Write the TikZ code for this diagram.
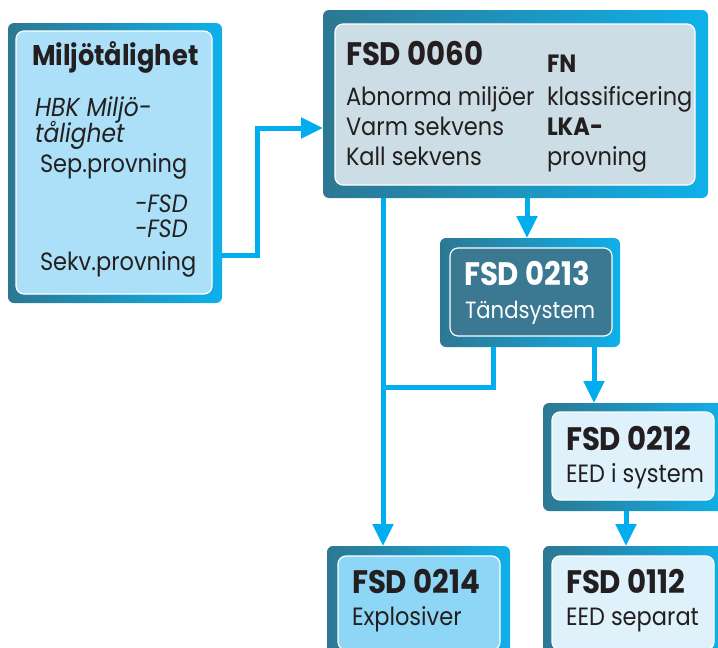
\documentclass[tikz,border=0pt]{standalone}
\usepackage{fontspec}
\setmainfont[FakeStretch=0.9, Numbers=Monospaced]{Poppins}
\usetikzlibrary{arrows.meta}
\definecolor{arrowc}{HTML}{00AEEF}
\definecolor{darkc}{HTML}{2C7893}
\definecolor{brightc}{HTML}{0FB0EA}
\definecolor{inone}{HTML}{ABE0F8}
\definecolor{intwo}{HTML}{CDDDE5}
\definecolor{inthree}{HTML}{3B7892}
\definecolor{infour}{HTML}{DFF2FB}
\definecolor{insix}{HTML}{8ED6F5}
\definecolor{ink}{HTML}{231F20}
\tikzset{
 outerbox/.style={rounded corners=6pt, left color=darkc, right color=brightc, draw=none, inner sep=0pt, outer sep=0pt, anchor=north west},
 innerbox/.style={rounded corners=8pt, draw=white, line width=1.2pt, inner sep=0pt, outer sep=0pt, anchor=north west},
 conn/.style={draw=arrowc, line width=5pt},
 arr/.style={conn, -{Triangle[length=22pt,width=20pt]}},
 txt/.style={anchor=base west, inner sep=0pt, outer sep=0pt, text=ink, font=\fontsize{25}{25}\selectfont},
 boldtxt/.style={txt, font=\fontsize{25}{25}\selectfont\bfseries},
 itxt/.style={txt, font=\fontsize{25}{25}\selectfont\itshape},
 ttl/.style={txt, font=\fontsize{32.5}{32.5}\selectfont\bfseries},
}
\begin{document}
\begin{tikzpicture}[x=1pt,y=-1pt]
\useasboundingbox (0,0) rectangle (718,648);
\clip (0,0) rectangle (718,648);
% outer boxes
\node[outerbox, minimum width=214pt, minimum height=280pt] (o1) at (8,23) {};
\node[outerbox, minimum width=385pt, minimum height=188pt] (o2) at (323,10) {};
\node[outerbox, minimum width=180pt, minimum height=109pt] (o3) at (440,238) {};
\node[outerbox, minimum width=182pt, minimum height=108pt] (o4) at (543,403) {};
\node[outerbox, minimum width=182pt, minimum height=114pt] (o5) at (543,546) {};
\node[outerbox, minimum width=183pt, minimum height=114pt] (o6) at (327,546) {};
% inner boxes
\node[innerbox, fill=inone, minimum width=196pt, minimum height=263pt] (i1) at (16,31) {};
\node[innerbox, fill=intwo, minimum width=360pt, minimum height=161pt] (i2) at (335,24) {};
\node[innerbox, fill=inthree, minimum width=162pt, minimum height=88pt] (i3) at (450,248) {};
\node[innerbox, fill=infour, minimum width=162pt, minimum height=88pt] (i4) at (552,412) {};
\node[innerbox, fill=infour, minimum width=162pt, minimum height=94pt] (i5) at (552,556) {};
\node[innerbox, fill=insix, minimum width=162pt, minimum height=94pt] (i6) at (338,556) {};
% texts box 1
\node[txt, font=\fontsize{28.5}{28.5}\selectfont\bfseries] (t1a) at (32,65) {Miljötålighet};
\node[itxt, font=\fontsize{26}{26}\selectfont\itshape] (t1b) at (35,116) {HBK Miljö-};
\node[itxt, font=\fontsize{26}{26}\selectfont\itshape] (t1c) at (35,142) {tålighet};
\node[txt] (t1d) at (40,172) {Sep.provning};
\node[itxt] (t1e) at (135,212) {-FSD};
\node[itxt] (t1f) at (135,237) {-FSD};
\node[txt] (t1g) at (40,270) {Sekv.provning};
% texts box 2
\node[ttl] (t2a) at (346,65) {FSD 0060};
\node[boldtxt] (t2b) at (547,72) {FN};
\node[txt] (t2c) at (346,105) {Abnorma miljöer};
\node[txt] (t2d) at (547,105) {klassificering};
\node[txt] (t2e) at (346,135) {Varm sekvens};
\node[boldtxt] (t2f) at (547,135) {LKA-};
\node[txt] (t2g) at (346,165) {Kall sekvens};
\node[txt] (t2h) at (547,165) {provning};
% box 3
\node[ttl, text=white] (t3a) at (464,285) {FSD 0213};
\node[txt, text=white, font=\fontsize{23.5}{23.5}\selectfont] (t3b) at (465,318) {Tändsystem};
% box 4
\node[ttl] (t4a) at (566,450) {FSD 0212};
\node[txt] (t4b) at (566,482) {EED i system};
% box 5
\node[ttl] (t5a) at (566,593) {FSD 0112};
\node[txt] (t5b) at (566,625) {EED separat};
% box 6
\node[ttl] (t6a) at (352,593) {FSD 0214};
\node[txt] (t6b) at (352,625) {Explosiver};
% connector coordinates
\coordinate (c1) at (257,255);
\coordinate (c2) at (0,128);
\coordinate (c3) at (527,0);
\coordinate (c4) at (383,0);
\coordinate (c5) at (493,0);
\coordinate (c6) at (0,387);
\coordinate (c7) at (594,0);
\coordinate (c8) at (626,0);
% connectors
\draw[arr] (o1.east |- c1) -- (c1) |- (o2.west |- c2);
\draw[arr] (o2.south -| c3) -- (o3.north -| c3);
\draw[arr] (o2.south -| c4) -- (o6.north -| c4);
\draw[conn] (o3.south -| c5) |- (c4 |- c6);
\draw[arr] (o3.south -| c7) -- (o4.north -| c7);
\draw[arr] (o4.south -| c8) -- (o5.north -| c8);
\end{tikzpicture}
\end{document}
